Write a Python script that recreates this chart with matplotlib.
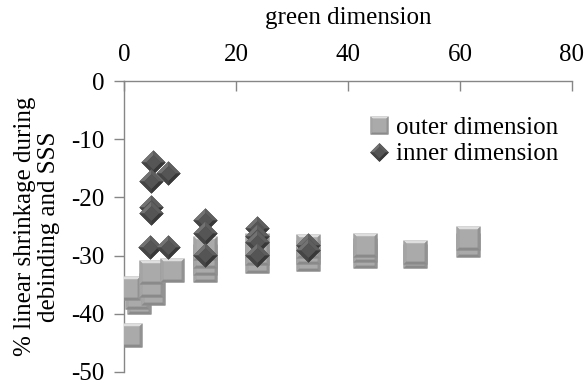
import matplotlib
matplotlib.use('Agg')
import matplotlib.pyplot as plt
from matplotlib.lines import Line2D
from matplotlib.legend_handler import HandlerTuple

plt.rcParams['font.family'] = ['Liberation Serif', 'DejaVu Serif']

# ---- data ----
x_ticks = [0, 20, 40, 60, 80]
x_labels = ['0', '20', '40', '60', '80']
y_ticks = [0, -10, -20, -30, -40, -50]
y_labels = ['0', '-10', '-20', '-30', '-40', '-50']

outer_x = [2.6, 2.3, 0.8, 1.1, 5.1, 4.9, 4.9, 8.5,
           14.5, 14.5, 14.5, 14.5, 23.7, 23.7, 23.7,
           32.9, 32.9, 32.9, 43.0, 43.0, 43.0, 52.0, 52.0, 61.5, 61.5]
outer_y = [-37.9, -37.1, -35.6, -43.6, -36.5, -35.0, -32.8, -32.5,
           -32.5, -31.3, -30.0, -28.7, -31.0, -29.5, -28.1,
           -30.5, -29.4, -28.4, -30.0, -29.1, -28.2, -30.0, -29.3, -28.2, -27.0]

inner_x = [5.2, 7.9, 4.8, 4.8, 4.8, 4.6, 7.9,
           14.5, 14.5, 14.5, 23.7, 23.7, 23.7, 23.7, 32.9, 32.9]
inner_y = [-13.9, -15.8, -17.1, -21.6, -22.7, -28.5, -28.5,
           -23.9, -26.2, -29.9, -25.3, -26.7, -27.6, -29.9, -28.2, -29.0]

series_names = ['outer dimension', 'inner dimension']

# ---- styles ----
SQ = 17.3
DM = 17.5
sq_top = [(-1, 1), (1, 1), (0.74, 0.74), (-0.74, 0.74)]
sq_bot = [(-1, -1), (1, -1), (0.74, -0.74), (-0.74, -0.74)]
sq_left = [(-1, 1), (-0.74, 0.74), (-0.74, -0.74), (-1, -1)]
sq_right = [(1, 1), (0.74, 0.74), (0.74, -0.74), (1, -1)]
dm_full = [(0, 1), (1, 0), (0, -1), (-1, 0)]
dm_ul = [(-1, 0), (0, 1), (0, 0.6), (-0.6, 0)]
dm_ur = [(0, 1), (1, 0), (0.6, 0), (0, 0.6)]
dm_ll = [(-1, 0), (0, -1), (0, -0.6), (-0.6, 0)]
dm_lr = [(0, -1), (1, 0), (0.6, 0), (0, -0.6)]


def square_layers(s):
    return [('s', s, '#9a9a9a'), (sq_top, s, '#dedede'), (sq_left, s, '#a4a4a4'),
            (sq_right, s, '#929292'), (sq_bot, s, '#8a8a8a'), ('s', s * 0.74, '#aaaaaa')]


def diamond_layers(s):
    return [(dm_full, s, '#4a4a4a'), (dm_ul, s, '#727272'), (dm_ur, s, '#5e5e5e'),
            (dm_ll, s, '#454545'), (dm_lr, s, '#383838'), (dm_full, s * 0.6, '#555555')]


fig = plt.figure(figsize=(5.86, 3.85), dpi=100)
ax = fig.add_axes([124 / 586, 1 - 372 / 385, (572 - 124) / 586, (372 - 81) / 385])

for xi, yi in zip(outer_x, outer_y):
    for m, ms, c in square_layers(SQ):
        ln, = ax.plot([xi], [yi], marker=m, ms=ms, mfc=c, mec='none', ls='none', zorder=3)
        ln.set_snap(False)
for xi, yi in zip(inner_x, inner_y):
    for m, ms, c in diamond_layers(DM):
        ln, = ax.plot([xi], [yi], marker=m, ms=ms, mfc=c, mec='none', ls='none', zorder=4)
        ln.set_snap(False)

ax.set_xlim(0, 80)
ax.set_ylim(-50, 0)
ax.xaxis.tick_top()
ax.xaxis.set_label_position('top')
ax.set_xticks(x_ticks, labels=x_labels)
ax.set_yticks(y_ticks, labels=y_labels)

spine_c = '#868686'
for side in ['right', 'bottom']:
    ax.spines[side].set_visible(False)
for side in ['top', 'left']:
    ax.spines[side].set_color(spine_c)
    ax.spines[side].set_linewidth(1.0)

ax.tick_params(axis='x', direction='in', length=7, color=spine_c, pad=11, labelsize=18, width=1.0)
ax.tick_params(axis='y', direction='out', length=7, color=spine_c, pad=7, labelsize=18, width=1.0)

ax.set_xlabel('green dimension', fontsize=18, labelpad=14)
ax.set_ylabel('% linear shrinkage during\ndebinding and SSS', fontsize=18, linespacing=1.15, labelpad=8)


def legend_handle(layers):
    hs = []
    for m, ms, c in layers:
        h = Line2D([], [], marker=m, ms=ms, mfc=c, mec='none', ls='none')
        h.set_snap(False)
        hs.append(h)
    return tuple(hs)


h_out = legend_handle(square_layers(13))
h_in = legend_handle(diamond_layers(13.5))
fig.legend([h_out, h_in], series_names, loc='upper left', bbox_to_anchor=(368 / 586, 1 - 116 / 385),
           frameon=False, fontsize=18, handler_map={tuple: HandlerTuple(ndivide=1, pad=0)},
           handlelength=0.9, handletextpad=0.2, labelspacing=0.17, borderpad=0, borderaxespad=0)

fig.savefig('out.png', dpi=100)
